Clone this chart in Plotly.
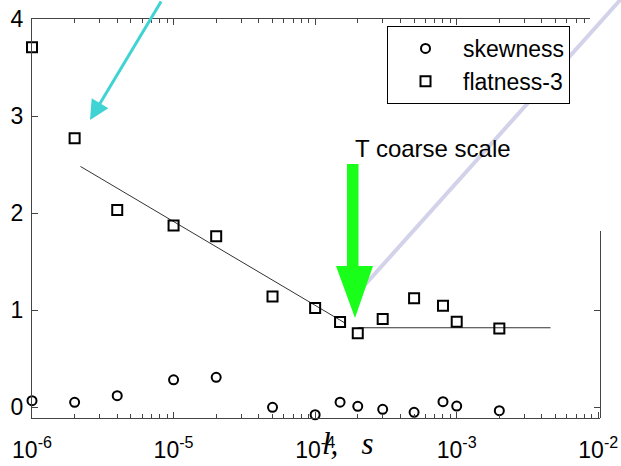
import plotly.graph_objects as go

# ---- data ----
skew_x = [1e-6, 2e-6, 4e-6, 1e-5, 2e-5, 5e-5, 1e-4, 1.5e-4, 2e-4, 3e-4, 5e-4, 8e-4, 1e-3, 2e-3]
skew_y = [0.065, 0.048, 0.117, 0.28, 0.306, -0.003, -0.08, 0.05, 0.007, -0.024, -0.055, 0.055, 0.01, -0.038]

flat_x = [1e-6, 2e-6, 4e-6, 1e-5, 2e-5, 5e-5, 1e-4, 1.5e-4, 2e-4, 3e-4, 5e-4, 8e-4, 1e-3, 2e-3]
flat_y = [3.71, 2.77, 2.03, 1.87, 1.76, 1.14, 1.02, 0.876, 0.76, 0.907, 1.12, 1.044, 0.88, 0.81]

fit1_x = [2.2e-6, 1.65e-4]
fit1_y = [2.48, 0.86]
fit2_x = [2e-4, 4.6e-3]
fit2_y = [0.817, 0.817]

xtick_vals = [1e-6, 1e-5, 1e-4, 1e-3, 1e-2]
xtick_text = ["10<sup>-6</sup>", "10<sup>-5</sup>", "10<sup>-4</sup>", "10<sup>-3</sup>", "10<sup>-2</sup>"]
ytick_vals = [0, 1, 2, 3, 4]

# ---- geometry (pixels) ----
W, H = 621, 466
L, R, T, B = 32, 600, 19, 418
DEC = 141.57  # px per decade
UNIT = 97.0   # px per y unit
xr = [-6, -6 + (R - L) / DEC]
yr = [-(B - 407) / UNIT, 4]


def px(x):
    return (x - L) / (R - L)


def py(y):
    return (B - y) / (B - T)


AX = "#444"
FONT = "Liberation Sans, Arial, sans-serif"

fig = go.Figure()
fig.add_trace(go.Scatter(x=fit1_x, y=fit1_y, mode="lines", line=dict(color="#333", width=1),
                         showlegend=False, hoverinfo="skip"))
fig.add_trace(go.Scatter(x=fit2_x, y=fit2_y, mode="lines", line=dict(color="#333", width=1),
                         showlegend=False, hoverinfo="skip"))
fig.add_trace(go.Scatter(x=skew_x, y=skew_y, mode="markers", name="skewness",
                         marker=dict(symbol="circle-open", size=9, color="black", line=dict(width=2)),
                         cliponaxis=False))
fig.add_trace(go.Scatter(x=flat_x, y=flat_y, mode="markers", name="flatness-3",
                         marker=dict(symbol="square-open", size=10, color="black", line=dict(width=2)),
                         cliponaxis=False))
# helper empty traces for the extra axis pieces
fig.add_trace(go.Scatter(x=[], y=[], xaxis="x2", yaxis="y", showlegend=False))
fig.add_trace(go.Scatter(x=[], y=[], xaxis="x", yaxis="y2", showlegend=False))

fig.update_layout(
    width=W, height=H,
    margin=dict(l=L, r=W - R, t=T, b=H - B, pad=0, autoexpand=False),
    paper_bgcolor="white", plot_bgcolor="rgba(0,0,0,0)",
    font=dict(family=FONT, color="black"),
    xaxis=dict(type="log", range=xr, showgrid=False, zeroline=False,
               showline=True, linecolor=AX, linewidth=1,
               ticks="inside", ticklen=6, tickcolor=AX,
               tickmode="array", tickvals=xtick_vals, ticktext=xtick_text,
               tickfont=dict(size=23, family=FONT, color="black"),
               ticklabelstandoff=11,
               minor=dict(ticks="inside", ticklen=4, tickcolor=AX, dtick="D1", showgrid=False)),
    xaxis2=dict(type="log", anchor="y", side="top", domain=[0, px(590)],
                range=[-6, -6 + (590 - L) / DEC], showgrid=False, zeroline=False,
                showline=True, linecolor=AX, linewidth=1,
                ticks="inside", ticklen=6, tickcolor=AX, showticklabels=False,
                tickmode="array", tickvals=xtick_vals,
                minor=dict(ticks="inside", ticklen=4, tickcolor=AX, dtick="D1", showgrid=False)),
    yaxis=dict(range=yr, showgrid=False, zeroline=False,
               showline=True, linecolor=AX, linewidth=1,
               ticks="inside", ticklen=6, tickcolor=AX,
               tickmode="array", tickvals=ytick_vals,
               tickfont=dict(size=23, family=FONT, color="black"),
               ticklabelstandoff=3),
    yaxis2=dict(anchor="x", side="right", domain=[0, py(231)],
                range=[yr[0], yr[0] + (B - 231) / UNIT], showgrid=False, zeroline=False,
                showline=True, linecolor=AX, linewidth=1,
                ticks="inside", ticklen=6, tickcolor=AX, showticklabels=False,
                tickmode="array", tickvals=[0, 1]),
    legend=dict(x=px(387), y=py(26), xanchor="left", yanchor="top",
                orientation="v",
                bordercolor="black", borderwidth=1, bgcolor="white",
                font=dict(size=23, family=FONT, color="black"),
                itemwidth=65, tracegroupgap=0),
    showlegend=True,
)

# lavender line (under green arrow)
fig.add_shape(type="line", xref="paper", yref="paper",
              x0=px(363), y0=py(287), x1=px(622), y1=py(-2),
              line=dict(color="#d2d2ea", width=4), layer="above")

# green arrow
pts = [(347, 164), (358.5, 164), (358.5, 266), (373, 266), (355, 318), (336, 266), (347, 266)]
path = "M " + " L ".join(f"{px(a):.5f},{py(b):.5f}" for a, b in pts) + " Z"
fig.add_shape(type="path", xref="paper", yref="paper", path=path,
              fillcolor="#1aff1a", line=dict(width=0), layer="above")

# cyan arrow
fig.add_annotation(xref="paper", yref="paper", x=px(90), y=py(120), text="",
                   showarrow=True, arrowhead=2, arrowsize=1.3, arrowwidth=3,
                   arrowcolor="#3fd3d3", ax=72, ay=-131, standoff=0)

# text annotations
fig.add_annotation(xref="paper", yref="paper", x=px(353), y=py(148.5), text="T coarse scale",
                   showarrow=False, xanchor="left", yanchor="middle",
                   font=dict(size=24, family=FONT, color="black"))
fig.add_annotation(xref="paper", yref="paper", x=px(348), y=py(443), text="<i>l,\u00a0\u00a0\u00a0s</i>",
                   showarrow=False, xanchor="center", yanchor="middle",
                   font=dict(size=31, family="Liberation Serif, Times New Roman, serif", color="black"))

fig.write_html("out.html")
